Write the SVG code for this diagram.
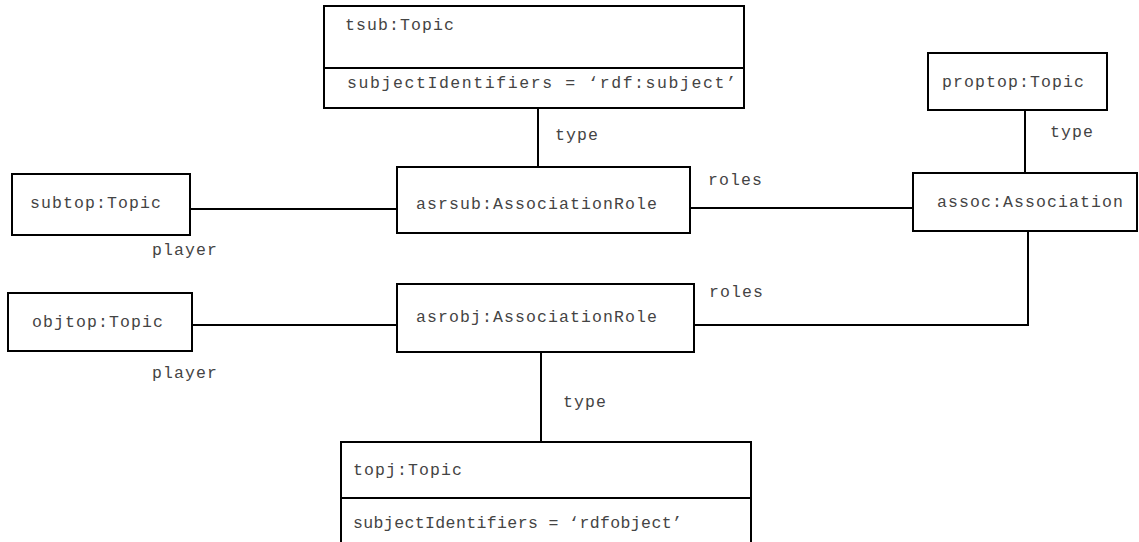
<svg xmlns="http://www.w3.org/2000/svg" width="1139" height="542" viewBox="0 0 1139 542">
<style>
.box{fill:#fff;stroke:#000;stroke-width:2}
.ln{fill:none;stroke:#000;stroke-width:2}
text{font-family:"Liberation Mono","Courier New",monospace;font-size:16.5px;letter-spacing:1.1px;fill:#444}
</style>
<rect width="1139" height="542" fill="#fff"/>
<g id="connectors">
<line class="ln" x1="538" y1="108" x2="538" y2="167"/>
<text x="555" y="140">type</text>
<line class="ln" x1="1025" y1="110" x2="1025" y2="173"/>
<text x="1050" y="137">type</text>
<line class="ln" x1="190" y1="209" x2="397" y2="209"/>
<text x="152" y="255">player</text>
<line class="ln" x1="690" y1="208" x2="913" y2="208"/>
<text x="708" y="185">roles</text>
<line class="ln" x1="192" y1="325" x2="397" y2="325"/>
<text x="152" y="378">player</text>
<polyline class="ln" points="694,325 1028,325 1028,231"/>
<text x="709" y="297">roles</text>
<line class="ln" x1="541" y1="352" x2="541" y2="442"/>
<text x="563" y="407">type</text>
</g>
<g id="tsub">
<rect class="box" x="324" y="6" width="420" height="102"/>
<line class="ln" x1="324" y1="68" x2="744" y2="68"/>
<text x="345" y="30">tsub:Topic</text>
<text x="347" y="88" textLength="390" lengthAdjust="spacing">subjectIdentifiers = ‘rdf:subject’</text>
</g>
<g id="proptop">
<rect class="box" x="928" y="53" width="179" height="57"/>
<text x="942" y="87">proptop:Topic</text>
</g>
<g id="subtop">
<rect class="box" x="12" y="174" width="178" height="61"/>
<text x="30" y="208">subtop:Topic</text>
</g>
<g id="asrsub">
<rect class="box" x="397" y="167" width="293" height="66"/>
<text x="416" y="209">asrsub:AssociationRole</text>
</g>
<g id="assoc">
<rect class="box" x="913" y="173" width="224" height="58"/>
<text x="937" y="207">assoc:Association</text>
</g>
<g id="objtop">
<rect class="box" x="8" y="293" width="184" height="58"/>
<text x="32" y="327">objtop:Topic</text>
</g>
<g id="asrobj">
<rect class="box" x="397" y="284" width="297" height="68"/>
<text x="416" y="322">asrobj:AssociationRole</text>
</g>
<g id="topj">
<rect class="box" x="341" y="442" width="410" height="110"/>
<line class="ln" x1="341" y1="498" x2="751" y2="498"/>
<text x="353" y="475">topj:Topic</text>
<text x="353" y="528" textLength="330" lengthAdjust="spacing">subjectIdentifiers = ‘rdfobject’</text>
</g>
</svg>
